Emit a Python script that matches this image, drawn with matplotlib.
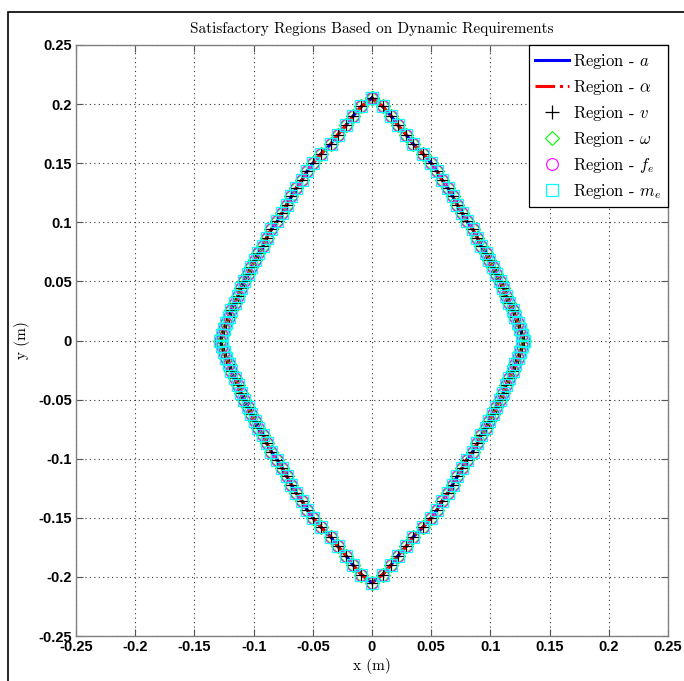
import matplotlib

matplotlib.use("Agg")
import matplotlib.pyplot as plt
from matplotlib.patches import Rectangle

# boundary of the satisfactory region, one quadrant (x >= 0, y >= 0),
# read off the picture from the top vertex down to the right vertex
quad_y = [0.205, 0.198, 0.190, 0.182, 0.174, 0.166, 0.158, 0.150, 0.143,
          0.136, 0.129, 0.122, 0.115, 0.108, 0.101, 0.094, 0.087, 0.080,
          0.074, 0.068, 0.062, 0.056, 0.050, 0.044, 0.038, 0.032, 0.026,
          0.020, 0.015, 0.010, 0.005, 0.000]
quad_x = [0.000, 0.009, 0.016, 0.022, 0.029, 0.035, 0.043, 0.050, 0.055,
          0.059, 0.064, 0.068, 0.072, 0.076, 0.080, 0.085, 0.089, 0.092,
          0.096, 0.099, 0.102, 0.105, 0.108, 0.111, 0.113, 0.116, 0.119,
          0.121, 0.123, 0.125, 0.127, 0.128]

# the region is symmetric about both axes: walk round it clockwise
bx = quad_x + quad_x[::-1][1:] + [-v for v in quad_x][1:] + [-v for v in quad_x[::-1]][1:]
by = quad_y + [-v for v in quad_y[::-1]][1:] + [-v for v in quad_y][1:] + quad_y[::-1][1:]

ticks = [-0.25, -0.2, -0.15, -0.1, -0.05, 0, 0.05, 0.1, 0.15, 0.2, 0.25]
tick_labels = ["-0.25", "-0.2", "-0.15", "-0.1", "-0.05", "0",
               "0.05", "0.1", "0.15", "0.2", "0.25"]

series = [
    ("Region - $a$", dict(color="#0000FF", lw=2.2, ls="-")),
    ("Region - $\\alpha$", dict(color="#FF0000", lw=2.2, ls="-.")),
    ("Region - $v$", dict(color="black", ls="none", marker="+", ms=10, mew=0.9)),
    ("Region - $\\omega$", dict(color="#00FF00", ls="none", marker="D", ms=7,
                                mfc="none", mew=0.8)),
    ("Region - $f_e$", dict(color="#FF00FF", ls="none", marker="o", ms=8.5,
                            mfc="none", mew=0.8)),
    ("Region - $m_e$", dict(color="#00FFFF", ls="none", marker="s", ms=8.2,
                            mfc="none", mew=0.9)),
]

plt.rcParams["mathtext.fontset"] = "cm"
serif = "cmr10"

fig = plt.figure(figsize=(6.84, 6.81), dpi=100)
fig.patch.set_facecolor("white")
ax = fig.add_axes([76 / 684, 1 - 636 / 681, 592 / 684, 591 / 681])

for label, style in series:
    ax.plot(bx, by, label=label, **style)

ax.set_xlim(-0.25, 0.25)
ax.set_ylim(-0.25, 0.25)
ax.set_xticks(ticks)
ax.set_yticks(ticks)
ax.set_xticklabels(tick_labels, fontfamily="Liberation Sans", fontweight="bold", fontsize=10.5)
ax.set_yticklabels(tick_labels, fontfamily="Liberation Sans", fontweight="bold", fontsize=10.5)
ax.tick_params(direction="in", length=5, width=0.8, color="#555555",
               top=True, right=True, pad=3)
for sp in ax.spines.values():
    sp.set_color("#808080")
    sp.set_linewidth(1.0)
ax.grid(True, color="#333333", linestyle=(0, (1, 3)), linewidth=0.8)
ax.set_axisbelow(True)

ax.set_title("Satisfactory Regions Based on Dynamic Requirements",
             fontfamily=serif, fontsize=11, pad=9)
ax.set_xlabel("x (m)", fontfamily=serif, fontsize=11, labelpad=3)
ax.set_ylabel("y (m)", fontfamily=serif, fontsize=11, labelpad=6)

leg = ax.legend(loc="upper right", borderaxespad=0, fancybox=False,
                edgecolor="black", framealpha=1, handlelength=2.0,
                handletextpad=0.25, labelspacing=0.42, borderpad=0.4,
                prop={"family": serif, "size": 12})
leg.get_frame().set_linewidth(0.9)

# border of the screenshot the chart was cut from
fig.patches.append(Rectangle((8 / 684, -0.5), 2, 1.5 - 12 / 681,
                             transform=fig.transFigure, fill=False,
                             edgecolor="black", lw=1.2))

fig.savefig("out.png", dpi=100)
plt.close(fig)
